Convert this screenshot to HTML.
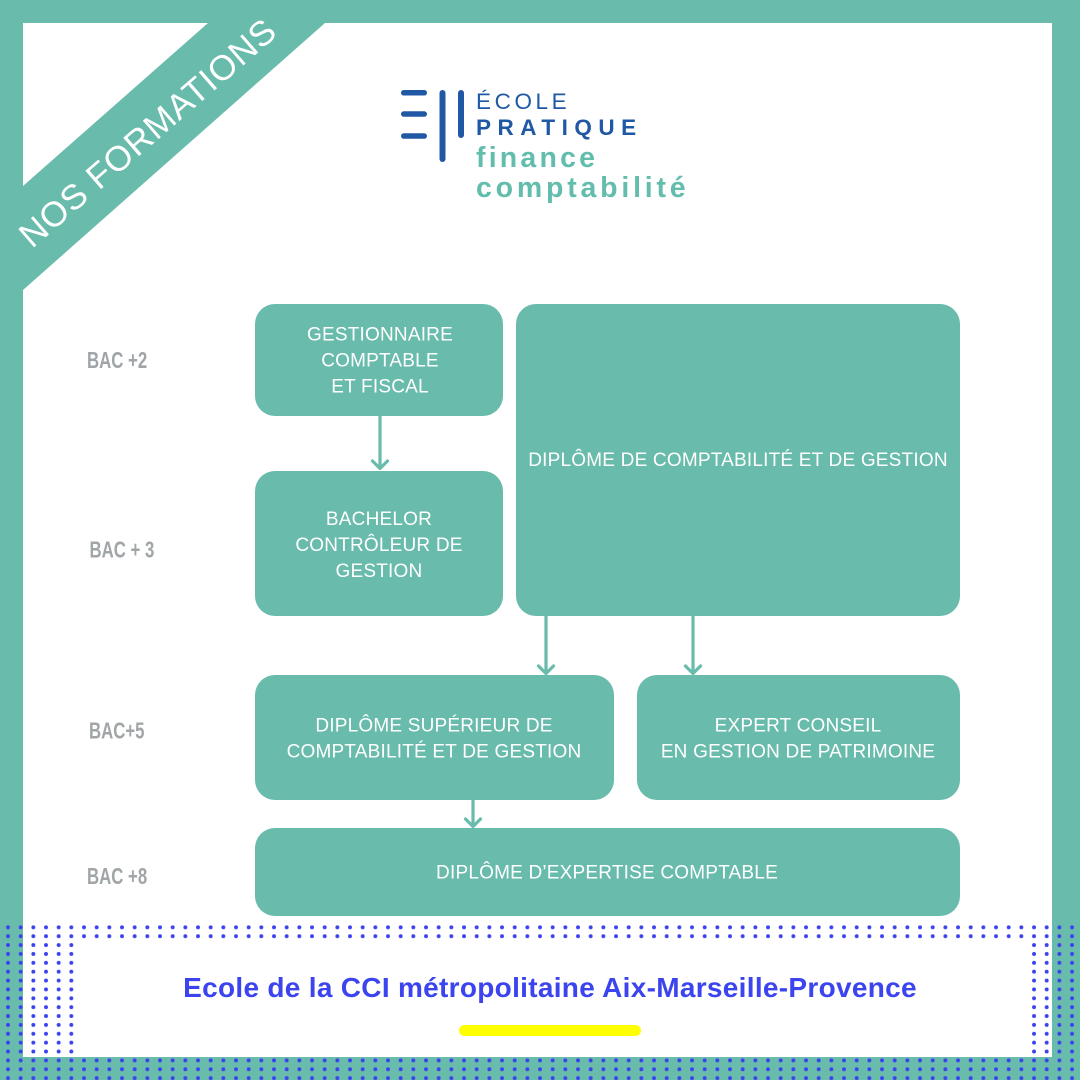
<!DOCTYPE html>
<html>
<head>
<meta charset="utf-8">
<style>
html,body{margin:0;padding:0;background:#fff;}
svg{display:block;}
</style>
</head>
<body>
<svg width="1080" height="1080" viewBox="0 0 1080 1080" xmlns="http://www.w3.org/2000/svg">
  <defs>
    <pattern id="dots" patternUnits="userSpaceOnUse" x="1.667" y="922.9" width="12.667" height="8.87">
      <circle cx="6.333" cy="4.435" r="1.95" fill="#3a42f0"/>
    </pattern>
  </defs>
  <!-- frame -->
  <rect x="0" y="0" width="1080" height="1080" fill="#69bbac"/>
  <rect x="23" y="23" width="1029" height="1034" fill="#ffffff"/>
  <!-- diagonal banner -->
  <polygon points="23,186 208,23 325,23 23,290" fill="#69bbac"/>
  <text x="0" y="0" transform="translate(148,133) rotate(-41)" text-anchor="middle" dominant-baseline="central" font-family="Liberation Sans, sans-serif" font-size="35" fill="#ffffff" font-weight="normal" letter-spacing="0.8">NOS FORMATIONS</text>

  <!-- logo -->
  <g fill="#2058a5">
    <rect x="401" y="90" width="26" height="5.5" rx="2.75"/>
    <rect x="401" y="111.3" width="26" height="5.5" rx="2.75"/>
    <rect x="401" y="133.3" width="26" height="5.5" rx="2.75"/>
    <rect x="439.5" y="90" width="6" height="72" rx="3"/>
    <rect x="458" y="90" width="6" height="48" rx="3"/>
  </g>
  <text x="476" y="109" font-family="Liberation Sans, sans-serif" font-size="22.5" fill="#2058a5" letter-spacing="3.6">ÉCOLE</text>
  <text x="476" y="135" font-family="Liberation Sans, sans-serif" font-size="22.5" font-weight="bold" fill="#2058a5" letter-spacing="6.5">PRATIQUE</text>
  <text x="476" y="167" font-family="Liberation Sans, sans-serif" font-size="28.5" font-weight="bold" fill="#63bdac" letter-spacing="3.2">finance</text>
  <text x="476" y="197" font-family="Liberation Sans, sans-serif" font-size="28.5" font-weight="bold" fill="#63bdac" letter-spacing="3.8">comptabilité</text>

  <!-- boxes -->
  <g fill="#69bbac">
    <rect x="255" y="304" width="248" height="112" rx="20"/>
    <rect x="255" y="471" width="248" height="145" rx="20"/>
    <rect x="516" y="304" width="444" height="312" rx="20"/>
    <rect x="255" y="675" width="359" height="125" rx="20"/>
    <rect x="637" y="675" width="323" height="125" rx="20"/>
    <rect x="255" y="828" width="705" height="88" rx="20"/>
  </g>

  <!-- arrows -->
  <g stroke="#69bbac" stroke-width="3.2" fill="none" stroke-linecap="round" stroke-linejoin="round">
    <line x1="380" y1="416" x2="380" y2="468"/>
    <polyline points="372.5,461 380,468.5 387.5,461"/>
    <line x1="546" y1="616" x2="546" y2="673"/>
    <polyline points="538.5,666 546,673.5 553.5,666"/>
    <line x1="693" y1="616" x2="693" y2="673"/>
    <polyline points="685.5,666 693,673.5 700.5,666"/>
    <line x1="473" y1="800" x2="473" y2="826"/>
    <polyline points="465.5,819 473,826.5 480.5,819"/>
  </g>

  <!-- box texts -->
  <g font-family="Liberation Sans, sans-serif" font-size="19" fill="#ffffff" text-anchor="middle" letter-spacing="0.2">
    <text x="380" y="340.5">GESTIONNAIRE</text>
    <text x="380" y="366.5">COMPTABLE</text>
    <text x="380" y="392.5">ET FISCAL</text>
    <text x="379" y="525">BACHELOR</text>
    <text x="379" y="551">CONTRÔLEUR DE</text>
    <text x="379" y="577">GESTION</text>
    <text x="738" y="466">DIPLÔME DE COMPTABILITÉ ET DE GESTION</text>
    <text x="434" y="731.5">DIPLÔME SUPÉRIEUR DE</text>
    <text x="434" y="757.5">COMPTABILITÉ ET DE GESTION</text>
    <text x="798" y="731.5">EXPERT CONSEIL</text>
    <text x="798" y="757.5">EN GESTION DE PATRIMOINE</text>
    <text x="607" y="878.5">DIPLÔME D’EXPERTISE COMPTABLE</text>
  </g>

  <!-- BAC labels -->
  <g font-family="Liberation Sans, sans-serif" font-size="23" font-weight="bold" fill="#a0a5a8">
    <text transform="translate(87,368) scale(0.73,1)">BAC +2</text>
    <text transform="translate(89.5,557.5) scale(0.73,1)">BAC + 3</text>
    <text transform="translate(89,738.5) scale(0.73,1)">BAC+5</text>
    <text transform="translate(87,884) scale(0.73,1)">BAC +8</text>
  </g>

  <!-- dotted frame at bottom -->
  <rect x="0" y="922.9" width="1080" height="17.74" fill="url(#dots)"/>
  <rect x="0" y="940.6" width="78" height="115.4" fill="url(#dots)"/>
  <rect x="1028" y="940.6" width="52" height="115.4" fill="url(#dots)"/>
  <rect x="0" y="1056" width="1080" height="24" fill="url(#dots)"/>

  <!-- footer text -->
  <text x="550" y="997" text-anchor="middle" font-family="Liberation Sans, sans-serif" font-size="28" font-weight="bold" fill="#3b44ee" letter-spacing="0.3">Ecole de la CCI métropolitaine Aix-Marseille-Provence</text>
  <rect x="459" y="1025" width="182" height="11" rx="5.5" fill="#ffff00"/>
</svg>
</body>
</html>
